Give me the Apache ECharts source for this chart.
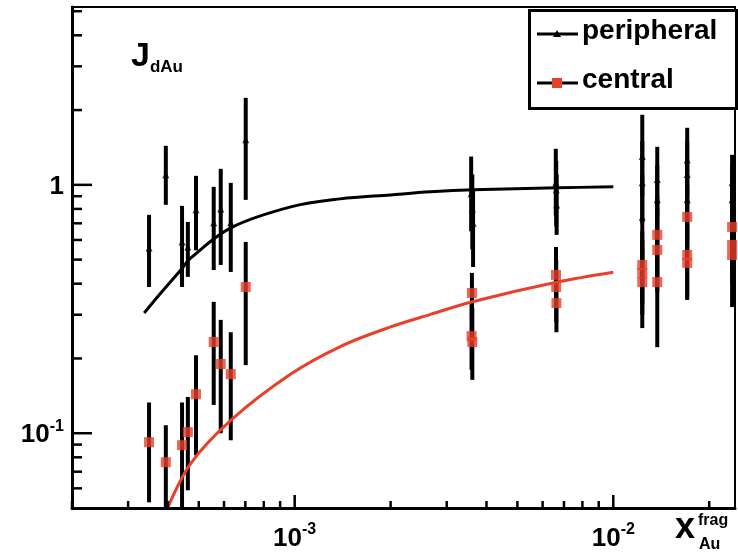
<!DOCTYPE html>
<html><head><meta charset="utf-8">
<script src="https://cdn.jsdelivr.net/npm/echarts@6/dist/echarts.min.js"></script>
<style>html,body{margin:0;padding:0;background:#fff}#c{width:738px;height:556px}</style>
</head><body><div id="c"></div>
<script>
// ---- data ----
const periphX  = [3.49e-4,3.94e-4,4.43e-4,4.62e-4,4.90e-4,5.57e-4,5.86e-4,6.30e-4,7.02e-4,
                  3.58e-3,3.61e-3,3.63e-3, 6.60e-3,6.62e-3,6.64e-3,
                  0.01233,0.01233,0.01233, 0.01374,0.01374, 0.01706,0.01706,0.01706, 0.0236,0.0236];
const periphY  = [0.557,1.097,0.589,0.562,0.793,0.703,0.800,0.703,1.518,
                  0.92,0.80,0.70, 1.02,0.955,0.83,
                  1.30,1.02,0.74, 1.05,0.87, 1.26,1.10,0.87, 1.02,0.87];
const periphLo = [0.388,0.831,0.388,0.426,0.545,0.454,0.476,0.446,0.870,
                  0.65,0.55,0.467, 0.75,0.68,0.629,
                  0.90,0.70,0.50, 0.75,0.60, 0.90,0.75,0.60, 0.70,0.60];
const periphHi = [0.757,1.436,0.823,0.709,1.087,0.982,1.16,1.019,2.24,
                  1.30,1.10,0.95, 1.397,1.25,1.10,
                  1.915,1.50,1.10, 1.423,1.20, 1.697,1.50,1.20, 1.321,1.20];

const centralX  = [3.49e-4,3.94e-4,4.43e-4,4.62e-4,4.90e-4,5.57e-4,5.86e-4,6.30e-4,7.02e-4,
                   3.60e-3,3.59e-3,3.61e-3, 6.61e-3,6.62e-3,6.63e-3,
                   0.01233,0.01233,0.01233, 0.01374,0.01374,0.01374, 0.01706,0.01706,0.01706, 0.0236,0.0236,0.0236];
const centralY  = [0.092,0.0764,0.0895,0.101,0.1436,0.233,0.190,0.173,0.388,
                   0.367,0.246,0.233, 0.434,0.388,0.334,
                   0.476,0.442,0.406, 0.629,0.547,0.406, 0.743,0.522,0.485, 0.677,0.573,0.522];
const centralLo = [0.0527,0.05,0.05,0.0589,0.0815,0.130,0.100,0.0937,0.188,
                   0.28,0.18,0.164, 0.33,0.28,0.255,
                   0.33,0.30,0.265, 0.42,0.37,0.222, 0.50,0.35,0.344, 0.45,0.40,0.322];
const centralHi = [0.133,0.1077,0.133,0.140,0.206,0.338,0.286,0.255,0.589,
                   0.442,0.33,0.32, 0.562,0.50,0.45,
                   0.65,0.60,0.56, 0.90,0.80,0.60, 1.00,0.75,0.70, 0.90,0.80,0.75];

const fitPeriphX  = [3.37e-4,3.80e-4,4.39e-4,4.72e-4,6.30e-4,9.72e-4,1.39e-3,2.0e-3,2.67e-3,3.64e-3,6.67e-3,1.0e-2];
const fitPeriphY  = [0.305,0.367,0.454,0.508,0.671,0.815,0.878,0.911,0.937,0.955,0.973,0.982];
const fitCentralX = [4.0e-4,4.72e-4,6.30e-4,9.72e-4,1.39e-3,2.0e-3,2.67e-3,3.64e-3,6.67e-3,1.0e-2];
const fitCentralY = [0.0503,0.0757,0.1127,0.173,0.2234,0.268,0.301,0.339,0.406,0.445];

const xMajorTicks = [1e-3,1e-2];
const xMinorTicks = [2e-4,3e-4,4e-4,5e-4,6e-4,7e-4,8e-4,9e-4,2e-3,3e-3,4e-3,5e-3,6e-3,7e-3,8e-3,9e-3,2e-2];
const yMajorTicks = [0.1,1];
const yMinorTicks = [0.06,0.07,0.08,0.09,0.2,0.3,0.4,0.5,0.6,0.7,0.8,0.9,2,3,4,5];

const xMin=2e-4, xMax=0.0241, yMin=0.05, yMax=5.2;
const RED='#e8402b';
const FONT='Liberation Sans';

function zip(a,b){return a.map((v,i)=>[v,b[i]]);}
function errSeries(xs,lo,hi){
  return {type:'custom', silent:true, z:2,
    data: xs.map((x,i)=>[x,lo[i],hi[i]]),
    encode:{x:0,y:[1,2]},
    renderItem:(p,api)=>{
      const a=api.coord([api.value(0),api.value(1)]);
      const b=api.coord([api.value(0),api.value(2)]);
      return {type:'line',shape:{x1:a[0],y1:a[1],x2:b[0],y2:b[1]},style:{stroke:'#000',lineWidth:4}};
    }};
}
function tickSeries(vals, isX, len){
  return {type:'custom', silent:true, z:6,
    data: vals.map(v=> isX?[v,yMin]:[xMin,v]),
    encode:{x:0,y:1},
    renderItem:(p,api)=>{
      const c=api.coord([api.value(0),api.value(1)]);
      const shape = isX? {x1:c[0],y1:c[1],x2:c[0],y2:c[1]-len} : {x1:c[0],y1:c[1],x2:c[0]+len,y2:c[1]};
      return {type:'line',shape,style:{stroke:'#000',lineWidth:2.5}};
    }};
}
function powLabel(v){
  const l=Math.log10(v), r=Math.round(l);
  if(Math.abs(l-r)>1e-6) return '';
  if(r===0) return '{n|1}';
  return '{n|10}{s|'+r+'}';
}
const rich={n:{fontFamily:FONT,fontWeight:'bold',fontSize:26,color:'#000',lineHeight:30,verticalAlign:'bottom'},
            s:{fontFamily:FONT,fontWeight:'bold',fontSize:16,color:'#000',lineHeight:16,verticalAlign:'top'}};

const chart=echarts.init(document.getElementById('c'),null,{renderer:'canvas'});
chart.setOption({
  animation:false,
  backgroundColor:'#fff',
  grid:{left:72,right:3,top:7,bottom:48,show:true,borderColor:'#000',borderWidth:2,backgroundColor:'transparent'},
  xAxis:{type:'log',logBase:10,min:xMin,max:xMax,
    axisLine:{show:true,lineStyle:{color:'#000',width:3}},
    axisTick:{show:false},minorTick:{show:false},splitLine:{show:false},
    axisLabel:{formatter:powLabel,rich:rich,margin:14,showMinLabel:false,showMaxLabel:false,hideOverlap:false}},
  yAxis:{type:'log',logBase:10,min:yMin,max:yMax,
    axisLine:{show:true,lineStyle:{color:'#000',width:3}},
    axisTick:{show:false},minorTick:{show:false},splitLine:{show:false},
    axisLabel:{formatter:powLabel,rich:rich,margin:8,showMinLabel:false,showMaxLabel:false,hideOverlap:false}},
  series:[
    errSeries(periphX,periphLo,periphHi),
    errSeries(centralX,centralLo,centralHi),
    {type:'line',data:zip(fitPeriphX,fitPeriphY),showSymbol:false,smooth:0.35,z:3,silent:true,
      lineStyle:{color:'#000',width:3}},
    {type:'line',data:zip(fitCentralX,fitCentralY),showSymbol:false,smooth:0.35,z:3,silent:true,
      lineStyle:{color:RED,width:3}},
    {type:'scatter',name:'peripheral',data:zip(periphX,periphY),symbol:'triangle',symbolSize:7,z:4,
      itemStyle:{color:'#000'}},
    {type:'scatter',name:'central',data:zip(centralX,centralY),symbol:'rect',symbolSize:10,z:4,
      itemStyle:{color:RED}},
    tickSeries(xMajorTicks,true,13),
    tickSeries(xMinorTicks,true,7),
    tickSeries(yMajorTicks,false,20),
    tickSeries(yMinorTicks,false,10)
  ],
  graphic:[
    {type:'rect',left:528,top:9,z:100,shape:{width:207,height:98},style:{fill:'#fff',stroke:'#000',lineWidth:3}},
    {type:'line',z:101,shape:{x1:537,y1:34,x2:578,y2:34},style:{stroke:'#000',lineWidth:3}},
    {type:'polygon',z:102,shape:{points:[[557,30],[561,37],[553,37]]},style:{fill:'#000'}},
    {type:'text',z:101,left:582,top:17,style:{text:'peripheral',font:'bold 28px '+FONT,fill:'#000'}},
    {type:'line',z:101,shape:{x1:537,y1:83,x2:578,y2:83},style:{stroke:'#000',lineWidth:3}},
    {type:'rect',z:102,shape:{x:552,y:78,width:10,height:10},style:{fill:RED}},
    {type:'text',z:101,left:582,top:66,style:{text:'central',font:'bold 28px '+FONT,fill:'#000'}},
    {type:'text',z:101,left:131,top:40,style:{
      text:'{J|J}{d|dAu}',
      rich:{J:{fontFamily:FONT,fontWeight:'bold',fontSize:34,lineHeight:36,verticalAlign:'top'},
            d:{fontFamily:FONT,fontWeight:'bold',fontSize:17,lineHeight:16,verticalAlign:'bottom'}}}},
    {type:'text',z:101,left:675,top:510,style:{text:'x',font:'bold 36px '+FONT,fill:'#000'}},
    {type:'text',z:101,left:698,top:513,style:{text:'frag',font:'bold 16px '+FONT,fill:'#000'}},
    {type:'text',z:101,left:699,top:537,style:{text:'Au',font:'bold 16px '+FONT,fill:'#000'}}
  ]
});
</script></body></html>
